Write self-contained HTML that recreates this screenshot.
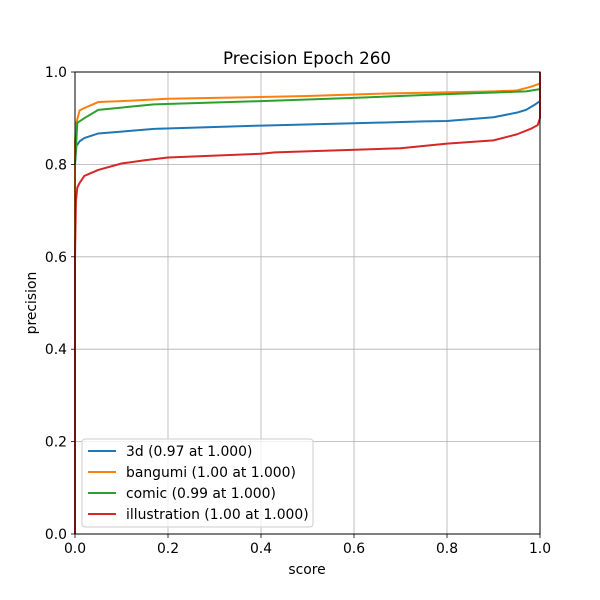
<!DOCTYPE html>
<html><head><meta charset="utf-8"><style>
body{margin:0;background:#fff}
svg{display:block;font-family:"DejaVu Sans","Liberation Sans",sans-serif}
</style></head><body>
<svg width="600" height="600" viewBox="0 0 600 600">
<rect width="600" height="600" fill="#fff"/>
<g stroke="#b0b0b0" stroke-width="0.8">
<line x1="168" y1="72" x2="168" y2="534"/><line x1="261" y1="72" x2="261" y2="534"/>
<line x1="354" y1="72" x2="354" y2="534"/><line x1="447" y1="72" x2="447" y2="534"/>
<line x1="75" y1="441.6" x2="540" y2="441.6"/><line x1="75" y1="349.2" x2="540" y2="349.2"/>
<line x1="75" y1="256.8" x2="540" y2="256.8"/><line x1="75" y1="164.4" x2="540" y2="164.4"/>
</g>
<g transform="translate(75,534) scale(465,-462)" fill="none" stroke-width="2" stroke-linejoin="round">
<polyline vector-effect="non-scaling-stroke" stroke="#1f77b4" points="0,0.8 0.003,0.84 0.01,0.85 0.02,0.857 0.05,0.867 0.1,0.871 0.17,0.877 0.4,0.884 0.6,0.889 0.75,0.893 0.8,0.894 0.9,0.902 0.95,0.912 0.97,0.918 0.99,0.93 1,0.937 1,0.925"/>
<polyline vector-effect="non-scaling-stroke" stroke="#ff7f0e" points="0,0.6 0,0.85 0.003,0.89 0.01,0.917 0.02,0.922 0.05,0.935 0.1,0.937 0.2,0.942 0.5,0.948 0.65,0.953 0.9,0.958 0.95,0.96 0.98,0.968 1,0.975 1,0.99"/>
<polyline vector-effect="non-scaling-stroke" stroke="#2ca02c" points="0,0.8 0.005,0.89 0.02,0.9 0.05,0.918 0.1,0.923 0.17,0.93 0.4,0.937 0.6,0.944 0.8,0.952 0.97,0.958 1,0.963"/>
<polyline vector-effect="non-scaling-stroke" stroke="#d62728" points="0,0 0,0.6 0.002,0.72 0.005,0.75 0.01,0.76 0.02,0.775 0.05,0.788 0.1,0.802 0.15,0.809 0.2,0.815 0.4,0.823 0.43,0.826 0.7,0.835 0.8,0.845 0.9,0.852 0.95,0.865 0.98,0.877 0.995,0.885 1,0.9 1,1"/>
</g>
<rect x="75" y="72" width="465" height="462" fill="none" stroke="#000" stroke-width="1"/>
<g stroke="#000" stroke-width="0.8">
<line x1="75" y1="534" x2="75" y2="538"/><line x1="168" y1="534" x2="168" y2="538"/><line x1="261" y1="534" x2="261" y2="538"/><line x1="354" y1="534" x2="354" y2="538"/><line x1="447" y1="534" x2="447" y2="538"/><line x1="540" y1="534" x2="540" y2="538"/>
<line x1="71" y1="534" x2="75" y2="534"/><line x1="71" y1="441.6" x2="75" y2="441.6"/><line x1="71" y1="349.2" x2="75" y2="349.2"/><line x1="71" y1="256.8" x2="75" y2="256.8"/><line x1="71" y1="164.4" x2="75" y2="164.4"/><line x1="71" y1="72" x2="75" y2="72"/>
</g>
<g font-size="13.9" fill="#000" text-anchor="middle">
<text x="75" y="553">0.0</text><text x="168" y="553">0.2</text><text x="261" y="553">0.4</text><text x="354" y="553">0.6</text><text x="447" y="553">0.8</text><text x="540" y="553">1.0</text>
<text x="307" y="574">score</text>
</g>
<g font-size="13.9" fill="#000" text-anchor="end">
<text x="67" y="539">0.0</text><text x="67" y="446.6">0.2</text><text x="67" y="354.2">0.4</text><text x="67" y="261.8">0.6</text><text x="67" y="169.4">0.8</text><text x="67" y="77">1.0</text>
</g>
<text x="36" y="303" font-size="13.9" text-anchor="middle" transform="rotate(-90 36 303)">precision</text>
<text x="307" y="64" font-size="16.7" text-anchor="middle">Precision Epoch 260</text>
<rect x="82" y="439" width="231" height="88" rx="3" fill="#fff" fill-opacity="0.8" stroke="#ccc"/>
<g stroke-width="2">
<line x1="88" y1="451" x2="116" y2="451" stroke="#1f77b4"/>
<line x1="88" y1="472" x2="116" y2="472" stroke="#ff7f0e"/>
<line x1="88" y1="493" x2="116" y2="493" stroke="#2ca02c"/>
<line x1="88" y1="514" x2="116" y2="514" stroke="#d62728"/>
</g>
<g font-size="13.9" fill="#000">
<text x="126" y="456">3d (0.97 at 1.000)</text>
<text x="126" y="477">bangumi (1.00 at 1.000)</text>
<text x="126" y="498">comic (0.99 at 1.000)</text>
<text x="126" y="519">illustration (1.00 at 1.000)</text>
</g>
</svg>
</body></html>
